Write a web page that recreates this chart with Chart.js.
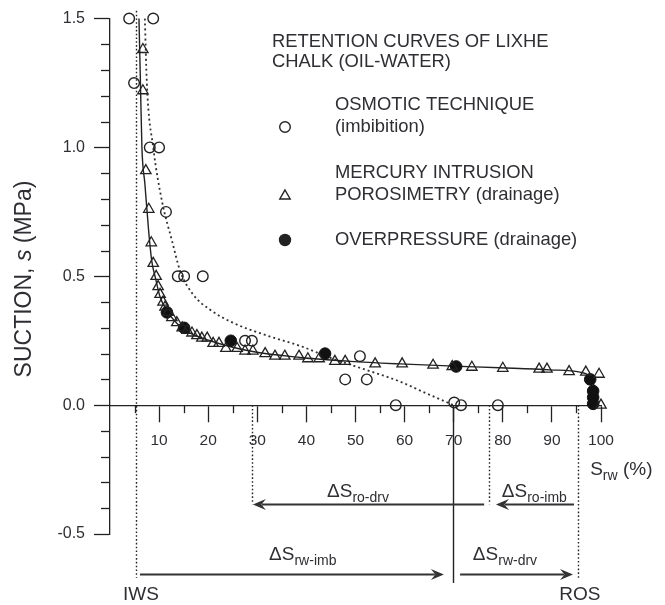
<!DOCTYPE html>
<html><head><meta charset="utf-8">
<script src="https://cdn.jsdelivr.net/npm/chart.js@4"></script>
<style>html,body{margin:0;padding:0;background:#fff}#wrap{width:665px;height:605px}</style>
</head><body><div id="wrap"><canvas id="c" width="665" height="605"></canvas></div>
<script>
// ---------- data (Srw in %, suction s in MPa) ----------
const osmoticSrw = [3.9, 8.8, 4.9, 8.1, 10.0, 11.4, 13.8, 15.1, 18.9, 27.5, 28.9, 50.9, 47.9, 52.3, 58.2, 70.1, 71.5, 79.0];
const osmoticS   = [1.50, 1.50, 1.25, 1.00, 1.00, 0.75, 0.50, 0.50, 0.50, 0.25, 0.25, 0.19, 0.10, 0.10, 0.00, 0.01, 0.00, 0.00];

const mercurySrw = [6.7, 6.7, 7.3, 7.9, 8.4, 8.8, 9.4, 9.8, 10.2, 10.8, 11.2, 11.8, 12.6, 13.6, 14.7, 15.7, 16.7, 17.7, 18.7, 19.8,
                    21.0, 22.2, 23.6, 25.9, 27.5, 29.1, 31.6, 33.6, 35.6, 38.5, 40.3, 42.6, 45.8, 47.9, 54.0, 59.5, 65.8, 69.7, 73.7, 80.0,
                    87.4, 89.0, 93.5, 96.9, 99.6, 100.0];
const mercuryS   = [1.38, 1.22, 0.91, 0.76, 0.63, 0.55, 0.50, 0.46, 0.43, 0.40, 0.38, 0.36, 0.34, 0.32, 0.30, 0.29, 0.28, 0.27, 0.26, 0.26,
                    0.24, 0.24, 0.22, 0.22, 0.21, 0.21, 0.20, 0.19, 0.19, 0.19, 0.18, 0.18, 0.17, 0.17, 0.16, 0.16, 0.155, 0.15, 0.147, 0.143,
                    0.14, 0.14, 0.13, 0.128, 0.12, 0.00];

const overSrw = [11.6, 15.1, 24.6, 43.8, 70.5, 97.8, 98.4, 98.4, 98.4];
const overS   = [0.36, 0.30, 0.25, 0.20, 0.15, 0.10, 0.055, 0.03, 0.005];

const drainFitSrw = [5.9, 6.2, 6.5, 7.1, 7.9, 8.5, 9.3, 10.2, 11.8, 13.5, 15.3, 20.4, 28.5, 38.7, 48.9, 59.0, 69.2, 79.4, 89.6, 95.7, 97.5, 98.4, 98.8, 99.0];
const drainFitS   = [1.50, 1.25, 1.00, 0.86, 0.67, 0.56, 0.49, 0.42, 0.36, 0.32, 0.29, 0.25, 0.21, 0.185, 0.17, 0.16, 0.152, 0.145, 0.137, 0.128, 0.115, 0.09, 0.05, 0.0];

const imbFitSrw = [7.1, 7.5, 8.8, 10.6, 12.6, 14.3, 16.9, 20.4, 25.0, 32.0, 38.7, 45.4, 52.3, 59.0, 64.5, 70.0];
const imbFitS   = [1.50, 1.25, 1.00, 0.79, 0.64, 0.52, 0.43, 0.37, 0.32, 0.27, 0.23, 0.18, 0.136, 0.092, 0.045, 0.0];

// annotation geometry (data units)
const refLinesSrw  = [5.3, 28.9, 69.8, 77.2, 95.3];       // IWS, drv end, split, imb end, ROS
const refLinesTop  = [1.53, 0, 0, 0, 0];
const refLinesBot  = [-0.67, -0.385, -0.69, -0.385, -0.67];
const refLinesDash = [true, true, false, true, true];
const arrowFrom = [76.2, 94.5, 6.1, 71.3];
const arrowTo   = [29.1, 78.6, 68.0, 94.3];
const arrowS    = [-0.385, -0.385, -0.655, -0.655];
const deltaSubs = ['ro-drv', 'ro-imb', 'rw-imb', 'rw-drv'];
const deltaSrw  = [44.2, 79.8, 32.4, 73.9];
const deltaS    = [-0.357, -0.357, -0.60, -0.60];

const yTickMin = -0.5, yTickMax = 1.5, yStep = 0.1;
const xTickMin = 0, xTickMax = 100, xStep = 5;

// ---------- helpers ----------
const FONT = '"Liberation Sans", Arial, Helvetica, sans-serif';
const INK = '#222';
const TXT = '#2e2e33';
const zip = (a, b) => a.map((v, i) => ({x: v, y: b[i]}));
const isYMajor = v => Math.abs(v * 2 - Math.round(v * 2)) < 1e-6;
const isXMajor = v => Math.abs(v / 10 - Math.round(v / 10)) < 1e-6;

function drawSubText(ctx, x, yb, main, sub, size, subSize) {
  ctx.font = size + 'px ' + FONT;
  ctx.textBaseline = 'alphabetic';
  ctx.textAlign = 'left';
  ctx.fillText(main, x, yb);
  const w = ctx.measureText(main).width;
  ctx.font = subSize + 'px ' + FONT;
  ctx.fillText(sub, x + w, yb + 5);
  return x + w + ctx.measureText(sub).width;
}

function arrowHead(ctx, tx, ty, dir) {
  ctx.beginPath();
  ctx.moveTo(tx, ty);
  ctx.lineTo(tx - dir * 13, ty - 5.5);
  ctx.lineTo(tx - dir * 8.5, ty);
  ctx.lineTo(tx - dir * 13, ty + 5.5);
  ctx.closePath();
  ctx.fill();
}

const annot = {
  id: 'annot',
  afterDraw(chart) {
    const {ctx, scales: {x, y}} = chart;
    const X = v => x.getPixelForValue(v), Y = v => y.getPixelForValue(v);
    ctx.save();
    ctx.strokeStyle = INK; ctx.fillStyle = INK; ctx.lineWidth = 1.3;
    // minor ticks
    const y0 = Y(0), xl = X(0);
    y.ticks.forEach(t => {
      if (!isYMajor(t.value)) { const p = Math.round(Y(t.value)) + 0.5; ctx.beginPath(); ctx.moveTo(xl - 9, p); ctx.lineTo(xl, p); ctx.stroke(); }
    });
    x.ticks.forEach(t => {
      if (!isXMajor(t.value)) { const p = Math.round(X(t.value)) + 0.5; ctx.beginPath(); ctx.moveTo(p, y0); ctx.lineTo(p, y0 + 8); ctx.stroke(); }
    });
    // reference vertical lines
    refLinesSrw.forEach((v, i) => {
      ctx.setLineDash(refLinesDash[i] ? [1.6, 2.2] : []);
      ctx.lineWidth = refLinesDash[i] ? 1.4 : 1.4;
      const p = Math.round(X(v)) + 0.5;
      ctx.beginPath(); ctx.moveTo(p, Y(refLinesTop[i])); ctx.lineTo(p, Y(refLinesBot[i])); ctx.stroke();
    });
    ctx.setLineDash([]);
    // arrows
    ctx.strokeStyle = '#333'; ctx.fillStyle = '#333'; ctx.lineWidth = 1.8;
    arrowFrom.forEach((v, i) => {
      const a = X(v), b = X(arrowTo[i]), yy = Math.round(Y(arrowS[i])) + 0.5;
      const dir = b > a ? 1 : -1;
      ctx.beginPath(); ctx.moveTo(a, yy); ctx.lineTo(b - dir * 9, yy); ctx.stroke();
      arrowHead(ctx, b, yy, dir);
    });
    // delta labels
    ctx.fillStyle = TXT;
    deltaSubs.forEach((s, i) => drawSubText(ctx, X(deltaSrw[i]), Y(deltaS[i]), '\u0394S', s, 19, 14));
    // axis name Srw (%)
    let ex = drawSubText(ctx, X(97.8), Y(-0.244) + 7, 'S', 'rw', 19, 14);
    ctx.font = '19px ' + FONT; ctx.fillText(' (%)', ex, Y(-0.244) + 7);
    // IWS / ROS
    ctx.font = '19px ' + FONT; ctx.textAlign = 'center'; ctx.textBaseline = 'middle';
    ctx.fillText('IWS', X(6.3), Y(-0.736));
    ctx.fillText('ROS', X(95.7), Y(-0.736));
    // y-axis title
    ctx.save();
    ctx.translate(25, 279); ctx.rotate(-Math.PI / 2);
    const parts = [['SUCTION, ', ''], ['s', 'italic '], [' (MPa)', '']];
    let total = 0;
    parts.forEach(p => { ctx.font = p[1] + '23px ' + FONT; total += ctx.measureText(p[0]).width; });
    let cx = -total / 2;
    ctx.textAlign = 'left';
    parts.forEach(p => { ctx.font = p[1] + '23px ' + FONT; ctx.fillText(p[0], cx, 0); cx += ctx.measureText(p[0]).width; });
    ctx.restore();
    // legend block
    ctx.textAlign = 'left'; ctx.textBaseline = 'middle'; ctx.font = '18.4px ' + FONT; ctx.fillStyle = TXT;
    const lines = [['RETENTION CURVES OF LIXHE', 272, 42], ['CHALK (OIL-WATER)', 272, 62],
                   ['OSMOTIC TECHNIQUE', 335, 105], ['(imbibition)', 335, 127],
                   ['MERCURY INTRUSION', 335, 173], ['POROSIMETRY (drainage)', 335, 195],
                   ['OVERPRESSURE (drainage)', 335, 240]];
    lines.forEach(l => ctx.fillText(l[0], l[1], l[2]));
    ctx.strokeStyle = INK; ctx.fillStyle = INK; ctx.lineWidth = 1.4;
    ctx.beginPath(); ctx.arc(285, 127, 5.3, 0, Math.PI * 2); ctx.stroke();
    const tr = 6, tcx = 285, tcy = 196;
    ctx.beginPath();
    for (let k = 0; k < 3; k++) { const ang = k * 2 * Math.PI / 3; const px = tcx + Math.sin(ang) * tr, py = tcy - Math.cos(ang) * tr; k ? ctx.lineTo(px, py) : ctx.moveTo(px, py); }
    ctx.closePath(); ctx.stroke();
    ctx.beginPath(); ctx.arc(285, 240, 6.2, 0, Math.PI * 2); ctx.fill();
    ctx.restore();
  }
};

new Chart(document.getElementById('c'), {
  type: 'scatter',
  data: {
    datasets: [
      { label: 'OSMOTIC TECHNIQUE (imbibition)', data: zip(osmoticSrw, osmoticS), pointStyle: 'circle', pointRadius: 5.3,
        pointBorderWidth: 1.4, borderColor: INK, backgroundColor: 'rgba(0,0,0,0)', clip: false },
      { label: 'MERCURY INTRUSION POROSIMETRY (drainage)', data: zip(mercurySrw, mercuryS), pointStyle: 'triangle', pointRadius: 6,
        pointBorderWidth: 1.3, borderColor: INK, backgroundColor: 'rgba(0,0,0,0)', clip: false },
      { label: 'OVERPRESSURE (drainage)', data: zip(overSrw, overS), pointStyle: 'circle', pointRadius: 5.8,
        pointBorderWidth: 1, borderColor: '#111', backgroundColor: '#111', clip: false },
      { label: 'drainage fit', data: zip(drainFitSrw, drainFitS), showLine: true, pointRadius: 0, borderColor: INK,
        borderWidth: 1.4, cubicInterpolationMode: 'monotone', fill: false, clip: false },
      { label: 'imbibition fit', data: zip(imbFitSrw, imbFitS), showLine: true, pointRadius: 0, borderColor: '#333',
        borderWidth: 1.8, borderDash: [2, 3], cubicInterpolationMode: 'monotone', fill: false, clip: false }
    ]
  },
  options: {
    responsive: false, animation: false, devicePixelRatio: 1,
    layout: { padding: { top: 18, bottom: 71, left: 0, right: 64 } },
    plugins: { legend: { display: false }, tooltip: { enabled: false } },
    scales: {
      x: {
        type: 'linear', position: { y: 0 }, min: xTickMin, max: xTickMax,
        ticks: { stepSize: xStep, autoSkip: false, maxRotation: 0, padding: 10, color: TXT,
                 font: { family: FONT, size: 15.5 },
                 callback: v => (isXMajor(v) && v > 0) ? String(Math.round(v)) : '' },
        grid: { drawOnChartArea: false, tickLength: 16, tickWidth: 1.3,
                tickColor: c => (c.tick && isXMajor(c.tick.value) && c.tick.value > 0) ? INK : 'rgba(0,0,0,0)' },
        border: { color: INK, width: 1.3 }
      },
      y: {
        type: 'linear', position: 'left', min: yTickMin, max: yTickMax,
        afterFit(s) { s.width = 110; },
        ticks: { stepSize: yStep, autoSkip: false, padding: 9, color: TXT,
                 font: { family: FONT, size: 16 },
                 callback: v => isYMajor(v) ? (Math.round(v * 10) / 10).toFixed(1) : '' },
        grid: { drawOnChartArea: false, tickLength: 16, tickWidth: 1.3,
                tickColor: c => (c.tick && isYMajor(c.tick.value)) ? INK : 'rgba(0,0,0,0)' },
        border: { color: INK, width: 1.3 }
      }
    }
  },
  plugins: [annot]
});
</script>
</body></html>
